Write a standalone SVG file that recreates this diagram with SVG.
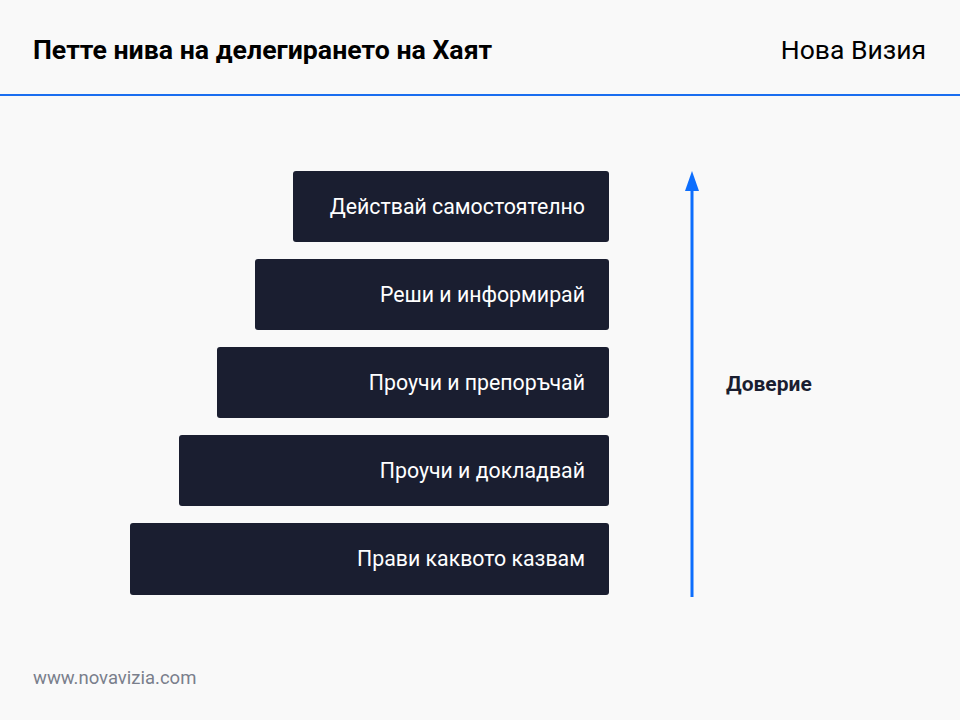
<svg xmlns="http://www.w3.org/2000/svg" width="960" height="720" viewBox="0 0 960 720">
<style>
.b{fill:#1a1e30}
.t{font-family:Roboto,"Liberation Sans",sans-serif;font-size:21.3px;fill:#fff;text-anchor:end}
</style>
<rect width="960" height="720" fill="#f9f9f9"/>
<text x="33" y="59" font-family="Roboto,'Liberation Sans',sans-serif" font-size="26.7" font-weight="bold" fill="#000">Петте нива на делегирането на Хаят</text>
<text x="926" y="59" font-family="Roboto,'Liberation Sans',sans-serif" font-size="26.5" fill="#000" text-anchor="end">Нова Визия</text>
<rect x="0" y="94" width="960" height="2" fill="#1a6ef0"/>
<g id="n1"><rect class="b" x="293" y="171" width="316" height="71" rx="3"/><text class="t" x="585" y="214">Действай самостоятелно</text></g>
<g id="n2"><rect class="b" x="255" y="259" width="354" height="71" rx="3"/><text class="t" x="585" y="302">Реши и информирай</text></g>
<g id="n3"><rect class="b" x="217" y="347" width="392" height="71" rx="3"/><text class="t" x="585" y="390">Проучи и препоръчай</text></g>
<g id="n4"><rect class="b" x="179" y="435" width="430" height="71" rx="3"/><text class="t" x="585" y="478">Проучи и докладвай</text></g>
<g id="n5"><rect class="b" x="130" y="523" width="479" height="72" rx="3"/><text class="t" x="585" y="566">Прави каквото казвам</text></g>
<g id="connectors"><line x1="692" y1="597" x2="692" y2="188" stroke="#0d6efd" stroke-width="3"/><path d="M685,191 L692,171 L699,191Z" fill="#0d6efd"/></g>
<text x="726" y="391" font-family="Roboto,'Liberation Sans',sans-serif" font-size="21" font-weight="bold" fill="#1a1e30">Доверие</text>
<text x="33" y="684" font-family="Roboto,'Liberation Sans',sans-serif" font-size="18.5" fill="#7a7f8c">www.novavizia.com</text>
</svg>
